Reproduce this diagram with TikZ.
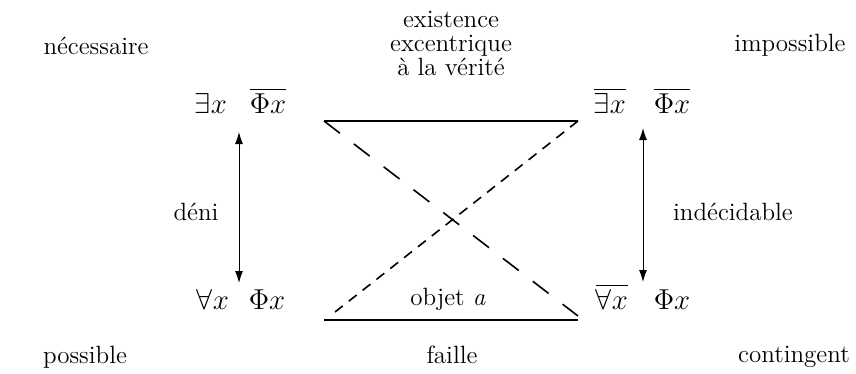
\documentclass[tikz,border=0pt]{standalone}
\usepackage{amsmath,amssymb}
\usetikzlibrary{arrows.meta}
\begin{document}
\begin{tikzpicture}[x=0.5pt,y=-0.5pt,
  lbl/.style={font=\fontsize{12.5}{12}\selectfont,anchor=base,inner sep=0pt},
  fml/.style={font=\fontsize{13.5}{14}\selectfont,anchor=base,inner sep=0pt},
  dbl/.style={{Latex[length=6pt,width=4pt]}-{Latex[length=6pt,width=4pt]},line width=0.5pt},
  side/.style={line width=0.8pt},
  longdash/.style={line width=0.8pt,dash pattern=on 10pt off 8.8pt},
  shortdash/.style={line width=0.8pt,dash pattern=on 5pt off 3.8pt}]
  % frame in pixels of the page
  \useasboundingbox (0,0) rectangle (856,374);
  \def\yT{113}\def\yB{309}
  % corner formulas
  \node[fml] (exA)  at (211,\yT) {$\exists x$};
  \node[fml] (phiA) at (268,\yT) {$\overline{\Phi x}$};
  \node[fml] (exB)  at (610,\yT) {$\overline{\exists x}$};
  \node[fml] (phiB) at (672,\yT) {$\overline{\Phi x}$};
  \node[fml] (allC) at (213,\yB) {$\forall x$};
  \node[fml] (phiC) at (267,\yB) {$\Phi x$};
  \node[fml] (allD) at (612,\yB) {$\overline{\forall x}$};
  \node[fml] (phiD) at (672,\yB) {$\Phi x$};
  % modal labels
  \node[lbl] (nec)   at (96,55)   {nécessaire};
  \node[lbl] (imp)   at (790,52)  {impossible};
  \node[lbl] (pos)   at (85,363)  {possible};
  \node[lbl] (cont)  at (794,362) {contingent};
  \node[lbl] (deni)  at (196,220) {déni};
  \node[lbl] (indec) at (733,220) {indécidable};
  \node[lbl] (objet) at (448,305) {objet \textit{a}};
  \node[lbl] (faille) at (452,363) {faille};
  \node[lbl,align=center,anchor=north] (exist) at (451,11) {existence\\excentrique\\à la vérité};
  % square corners
  \coordinate (tl) at (324,121);\coordinate (tr) at (578,121);
  \coordinate (bl) at (324,320);\coordinate (br) at (578,320);
  \coordinate (sd) at (335,312);
  % vertical arrows
  \coordinate (al1) at (239,132);\coordinate (al2) at (239,283);
  \coordinate (ar1) at (643,128);\coordinate (ar2) at (643,282);
  \draw[dbl] (al1) -- (al2);
  \draw[dbl] (ar1) -- (ar2);
  % sides and diagonals
  \draw[side] (tl) -- (tr);
  \draw[side] (bl) -- (br);
  \draw[longdash] (tl) -- ([yshift=2]br);
  \draw[shortdash] (tr) -- (sd);
\end{tikzpicture}
\end{document}
